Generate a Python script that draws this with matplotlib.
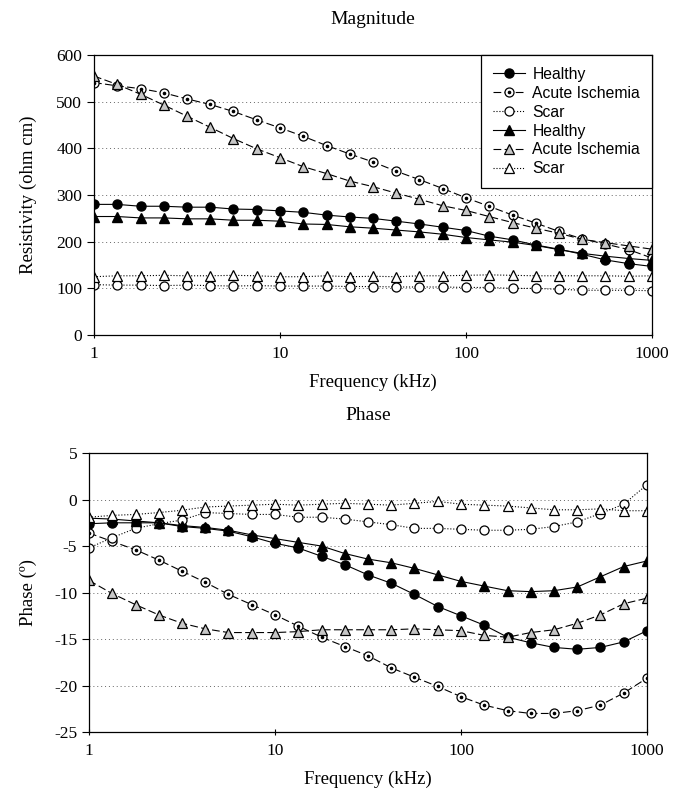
import matplotlib
matplotlib.use("Agg")
import matplotlib.pyplot as plt
from matplotlib.legend_handler import HandlerTuple

plt.rcParams["axes.unicode_minus"] = False

# frequency points (kHz), 8 per decade
freq = [1, 1.33, 1.78, 2.37, 3.16, 4.22, 5.62, 7.5, 10, 13.3, 17.8, 23.7, 31.6,
        42.2, 56.2, 75, 100, 133, 178, 237, 316, 422, 562, 750, 1000]

# magnitude (ohm cm)
mag_healthy_c = [280, 280, 276, 276, 274, 274, 270, 269, 266, 263, 257, 253, 250,
                 244, 238, 231, 224, 212, 204, 193, 184, 173, 161, 153, 147]
mag_acute_c = [541, 534, 528, 519, 506, 494, 479, 461, 444, 426, 406, 388, 371,
               351, 333, 314, 294, 276, 257, 240, 222, 206, 195, 183, 165]
mag_scar_c = [108, 107, 107, 106, 107, 106, 105, 106, 105, 105, 105, 104, 104,
              103, 103, 103, 102, 102, 100, 100, 98, 96, 96, 96, 95]
mag_healthy_t = [254, 254, 251, 251, 249, 249, 246, 246, 244, 238, 237, 232, 229,
                 225, 221, 216, 209, 204, 199, 192, 183, 175, 169, 164, 160]
mag_acute_t = [555, 537, 516, 493, 469, 445, 421, 399, 380, 361, 346, 330, 318,
               304, 291, 277, 267, 254, 241, 229, 218, 205, 198, 191, 184]
mag_scar_t = [125, 127, 127, 128, 127, 127, 128, 127, 125, 125, 127, 125, 126,
              125, 127, 127, 128, 129, 128, 127, 127, 127, 127, 126, 127]

# phase (degrees)
ph_healthy_c = [-2.6, -2.5, -2.5, -2.5, -2.9, -3.1, -3.4, -4.0, -4.7, -5.2, -6.1, -7.0, -8.1,
                -9.0, -10.2, -11.5, -12.5, -13.5, -14.8, -15.4, -15.9, -16.1, -15.9, -15.3, -14.1]
ph_acute_c = [-3.6, -4.5, -5.4, -6.5, -7.7, -8.9, -10.2, -11.3, -12.4, -13.6, -14.8, -15.8, -16.8,
              -18.1, -19.1, -20.1, -21.2, -22.1, -22.7, -23.0, -23.0, -22.7, -22.1, -20.8, -19.2]
ph_scar_c = [-5.2, -4.1, -3.1, -2.6, -2.2, -1.4, -1.5, -1.6, -1.6, -1.9, -1.9, -2.1, -2.4,
             -2.7, -3.1, -3.1, -3.2, -3.3, -3.3, -3.2, -2.9, -2.4, -1.5, -0.5, 1.6]
ph_healthy_t = [-2.0, -2.1, -2.3, -2.5, -2.8, -3.0, -3.3, -3.8, -4.2, -4.6, -5.0, -5.8, -6.4,
                -6.8, -7.4, -8.1, -8.8, -9.3, -9.8, -9.9, -9.8, -9.4, -8.3, -7.2, -6.6]
ph_acute_t = [-8.7, -10.1, -11.3, -12.4, -13.3, -13.9, -14.3, -14.3, -14.3, -14.2, -14.0, -14.0, -14.0,
              -14.0, -13.9, -14.0, -14.1, -14.6, -14.8, -14.3, -14.0, -13.3, -12.4, -11.2, -10.6]
ph_scar_t = [-1.9, -1.7, -1.6, -1.4, -1.15, -0.8, -0.7, -0.6, -0.5, -0.6, -0.5, -0.4, -0.5,
             -0.6, -0.4, -0.2, -0.5, -0.6, -0.7, -0.9, -1.1, -1.1, -1.0, -1.2, -1.2]

labels = ["Healthy", "Acute Ischemia", "Scar", "Healthy", "Acute Ischemia", "Scar"]

serif = "Liberation Serif"
sans = "Liberation Sans"
ms = 6.5
lw = 0.8
dash = (0, (7, 3))


def draw(ax, hc, ac, sc, ht, at, st):
    h = []
    h.append(ax.plot(freq, hc, color="k", lw=lw, marker="o", ms=ms, mfc="k", mec="k")[0])
    l1 = ax.plot(freq, ac, color="k", lw=lw, ls=dash, marker="o", ms=ms, mfc="white", mec="k", mew=0.9)[0]
    l2 = ax.plot(freq, ac, ls="none", marker="o", ms=1.6, mfc="k", mec="k")[0]
    h.append((l1, l2))
    h.append(ax.plot(freq, sc, color="k", lw=lw, ls=":", marker="o", ms=ms, mfc="white", mec="k", mew=0.9)[0])
    h.append(ax.plot(freq, ht, color="k", lw=lw, marker="^", ms=ms, mfc="k", mec="k")[0])
    h.append(ax.plot(freq, at, color="k", lw=lw, ls=dash, marker="^", ms=ms, mfc="0.78", mec="k", mew=0.9)[0])
    h.append(ax.plot(freq, st, color="k", lw=lw, ls=":", marker="^", ms=ms, mfc="white", mec="k", mew=0.9)[0])
    return h


def style(ax, title, ylabel, pad, ylpad):
    ax.set_xscale("log")
    ax.set_xlim(1, 1000)
    ax.set_xticks([1, 10, 100, 1000])
    ax.set_xticklabels(["1", "10", "100", "1000"])
    ax.minorticks_off()
    ax.tick_params(axis="x", direction="inout", length=4, labelsize=12.5, pad=6)
    ax.tick_params(axis="y", direction="out", length=5, labelsize=12.5)
    for t in ax.get_xticklabels() + ax.get_yticklabels():
        t.set_fontfamily(serif)
    ax.yaxis.grid(True, ls=(0, (1, 3)), color="0.4", lw=0.7)
    for s in ax.spines.values():
        s.set_linewidth(0.9)
    ax.set_xlabel("Frequency (kHz)", fontfamily=serif, fontsize=13.5, labelpad=8)
    ax.set_ylabel(ylabel, fontfamily=serif, fontsize=13.5, labelpad=ylpad)
    ax.set_title(title, fontfamily=serif, fontsize=14, pad=pad)


fig = plt.figure(figsize=(6.82, 7.94), dpi=100)
ax1 = fig.add_axes([0.1378, 0.578, 0.8182, 0.3527])
ax2 = fig.add_axes([0.1305, 0.078, 0.8182, 0.3514])

h = draw(ax1, mag_healthy_c, mag_acute_c, mag_scar_c, mag_healthy_t, mag_acute_t, mag_scar_t)
ax1.set_ylim(0, 600)
ax1.set_yticks(range(0, 700, 100))
style(ax1, "Magnitude", "Resistivity (ohm cm)", 22, 14)
leg = ax1.legend(h, labels, loc="upper right", borderaxespad=0, fancybox=False,
                 edgecolor="k", framealpha=1, prop={"family": sans, "size": 11.3},
                 handlelength=2.0, handletextpad=0.5, labelspacing=0.25, borderpad=0.75,
                 handler_map={tuple: HandlerTuple(ndivide=1)})
leg.get_frame().set_linewidth(0.9)

draw(ax2, ph_healthy_c, ph_acute_c, ph_scar_c, ph_healthy_t, ph_acute_t, ph_scar_t)
ax2.set_ylim(-25, 5)
ax2.set_yticks(range(-25, 10, 5))
style(ax2, "Phase", "Phase (º)", 24, 12)

fig.savefig("out.png", dpi=100)
